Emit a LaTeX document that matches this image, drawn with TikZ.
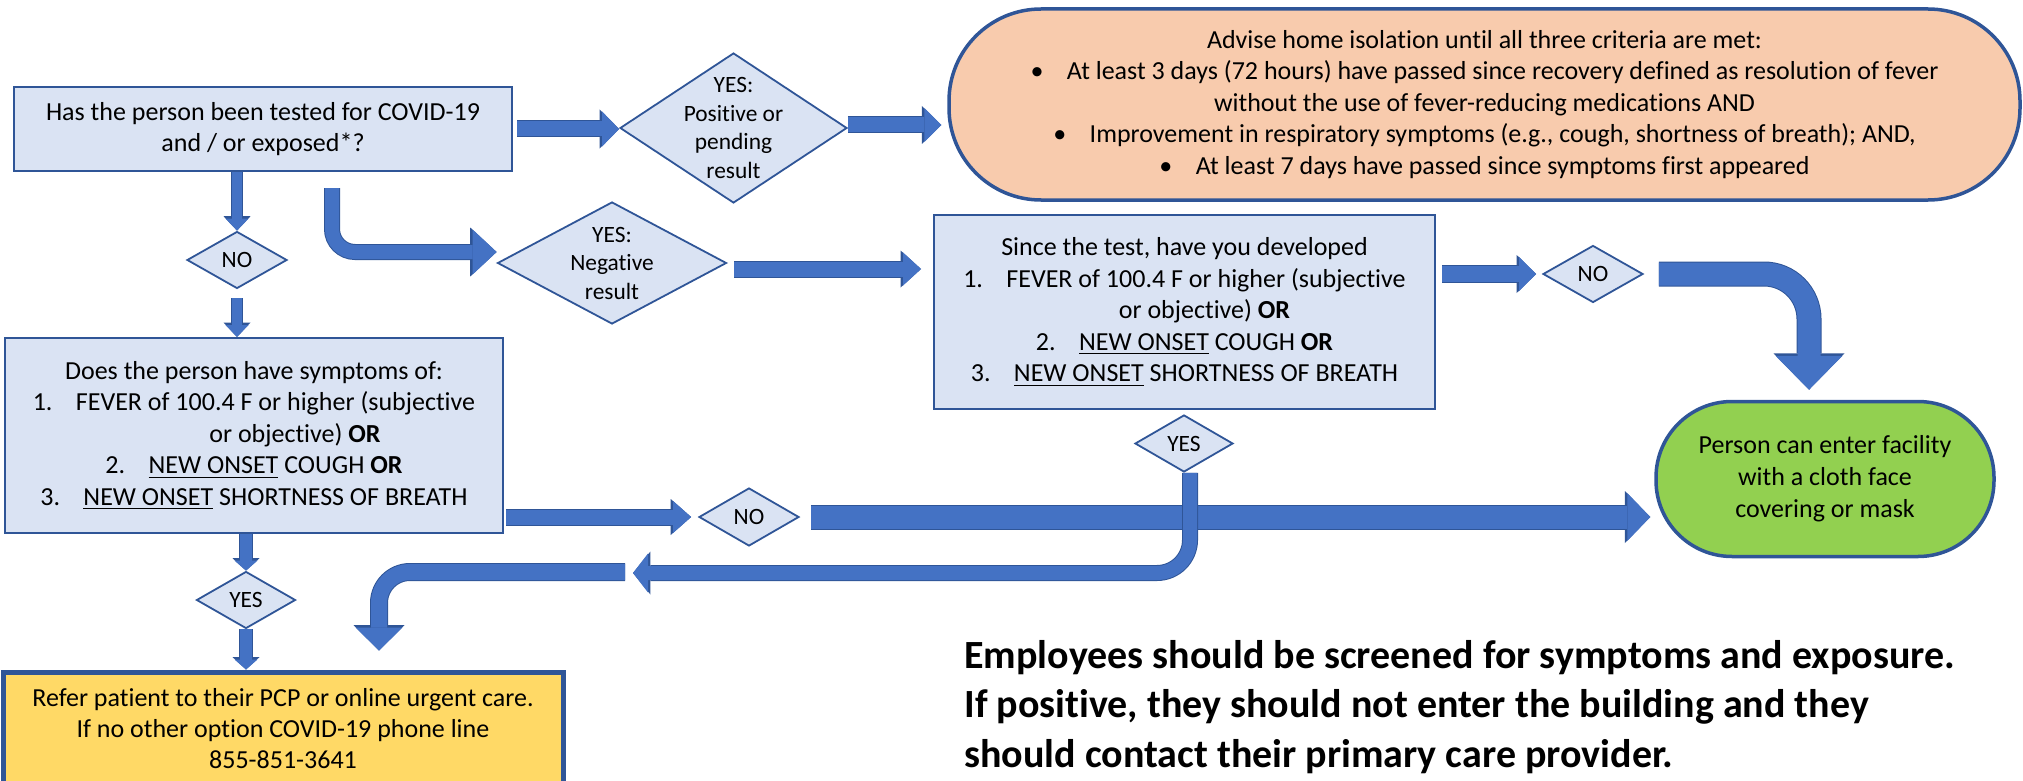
\documentclass[tikz,border=0pt]{standalone}
\usepackage{fontspec}
\setmainfont{Carlito}[Ligatures=NoCommon]
\usetikzlibrary{arrows.meta,shapes.geometric,calc}
\definecolor{boxfill}{HTML}{DAE3F3}
\definecolor{boxline}{HTML}{2F5597}
\definecolor{afill}{HTML}{4472C4}
\definecolor{orangefill}{HTML}{F8CBAD}
\definecolor{greenfill}{HTML}{92D050}
\definecolor{yellowfill}{HTML}{FFD966}
\newcommand\fsz[2]{\fontsize{#1}{#2}\selectfont}
\begin{document}
\begin{tikzpicture}[x=0.5pt,y=-0.5pt,
  qbox/.style={draw=boxline, fill=boxfill, line width=1pt, inner sep=0pt, align=center, font=\fsz{13}{15.75}},
  dia/.style={diamond, draw=boxline, fill=boxfill, line width=0.9pt, inner sep=0pt, font=\fsz{11.7}{14.25}},
  dtext/.style={align=center, inner sep=0pt, font=\fsz{11.7}{14.25}},
  endbox/.style={draw=boxline, line width=1.75pt, inner sep=0pt, align=center, font=\fsz{13}{15.75}},
  blk/.code n args={3}{%
    \pgfmathsetlengthmacro\blkw{#1+1pt}%
    \pgfmathsetlengthmacro\blkl{#2+1.2pt}%
    \pgfmathsetlengthmacro\blkh{#3+2pt}%
    \tikzset{draw=afill, line width=#1, -{Triangle[length=#2, width=#3, line width=0pt]},
      preaction={draw=boxline, line width=\blkw, -{Triangle[length=\blkl, width=\blkh, line width=0pt]}}}},
]
\useasboundingbox (0,0) rectangle (2023,781);

% nodes
\node[qbox, minimum width=249pt, minimum height=42pt] (q1) at (263,129)
  {Has the person been tested for COVID-19\\and / or exposed*?};
\node[dia, minimum width=113.5pt, minimum height=75pt,
  label={[dtext]center:{YES:\\Positive or\\pending\\result}}] (d1) at (733.5,128) {};
\node[endbox, fill=orangefill, rounded corners=46pt, minimum width=535.5pt, minimum height=95.5pt] (adv) at (1484.5,104.5)
  {Advise home isolation until all three criteria are met:\\
   \textbullet\hspace{0.9em}At least 3 days (72 hours) have passed since recovery defined as resolution of fever\\
   without the use of fever-reducing medications AND\\
   \textbullet\hspace{0.9em}Improvement in respiratory symptoms (e.g., cough, shortness of breath); AND,\\
   \textbullet\hspace{0.9em}At least 7 days have passed since symptoms first appeared};
\node[dia, minimum width=50pt, minimum height=28.5pt] (n1) at (237,260) {NO};
\node[dia, minimum width=114.5pt, minimum height=61pt,
  label={[dtext]center:{YES:\\Negative\\result}}] (d2) at (612,263) {};
\node[qbox, minimum width=250.5pt, minimum height=97pt] (test) at (1184.5,312)
  {Since the test, have you developed\\
   1.\hspace{0.9em}FEVER of 100.4 F or higher (subjective\\
   \hspace*{20pt}or objective) \textbf{OR}\\
   2.\hspace{0.9em}\underline{NEW ONSET} COUGH \textbf{OR}\\
   3.\hspace{0.9em}\underline{NEW ONSET} SHORTNESS OF BREATH};
\node[dia, minimum width=50pt, minimum height=28.5pt] (n3) at (1593,274) {NO};
\node[dia, minimum width=49pt, minimum height=28.5pt] (yes1) at (1184,443.5) {YES};
\node[qbox, minimum width=249pt, minimum height=97.5pt] (sym) at (254,435.5)
  {Does the person have symptoms of:\\
   1.\hspace{0.9em}FEVER of 100.4 F or higher (subjective\\
   \hspace*{41pt}or objective) \textbf{OR}\\
   2.\hspace{0.9em}\underline{NEW ONSET} COUGH \textbf{OR}\\
   3.\hspace{0.9em}\underline{NEW ONSET} SHORTNESS OF BREATH};
\node[dia, minimum width=50pt, minimum height=29pt] (n4) at (749,517) {NO};
\node[dia, minimum width=49.5pt, minimum height=28.5pt] (yes2) at (246,600) {YES};
\node[endbox, fill=greenfill, rounded corners=38pt, minimum width=169pt, minimum height=77.5pt,
  font=\fsz{13}{16}] (green) at (1825,479)
  {Person can enter facility\\with a cloth face\\covering or mask};
\node[endbox, fill=yellowfill, line width=2.5pt, minimum width=280pt, minimum height=57pt,
  font=\fsz{13}{15.5}] (yellow) at (283,729)
  {Refer patient to their PCP or online urgent care.\\If no other option COVID-19 phone line\\855-851-3641};
\node[anchor=west, align=left, inner sep=0pt, font=\bfseries\fsz{20}{24.8}] (note) at (964,707)
  {Employees should be screened for symptoms and exposure.\\
   If positive, they should not enter the building and they\\
   should contact their primary care provider.};

% connectors
\draw[blk={5pt}{6pt}{11.5pt}] (n1.north |- q1.south) -- (n1.north);
\draw[blk={5pt}{6pt}{11.5pt}, shorten <=4.5pt] (n1.south) -- (n1.south |- sym.north);
\draw[blk={7.5pt}{8.5pt}{17.5pt}, shorten <=2pt] (q1.east) -- (q1.east -| d1.west);
\draw[blk={7.5pt}{8.5pt}{17pt}, shorten >=3pt] ([yshift=1.5pt]d1.east) -- ([yshift=1.5pt]d1.east -| adv.west);
\draw[blk={7pt}{12pt}{22.5pt}, rounded corners=11.5pt, shorten <=8pt]
  ([xshift=34.5pt]q1.south) |- ([yshift=5.5pt]d2.west);
\draw[blk={7.5pt}{9pt}{16.5pt}, shorten <=3.5pt, shorten >=6pt]
  ([yshift=-3pt]d2.east) -- ([yshift=-3pt]d2.east -| test.west);
\draw[blk={8pt}{8.5pt}{17pt}, shorten <=3pt, shorten >=3pt] (n3.west -| test.east) -- (n3.west);
\draw[blk={11.5pt}{17pt}{33.5pt}, rounded corners=22.5pt, shorten <=7.5pt]
  (n3.east) -| ([xshift=-8pt,yshift=5pt]green.north);
\draw[blk={7.5pt}{9pt}{16pt}, shorten <=1pt, shorten >=3.5pt] (n4.west -| sym.east) -- (n4.west);
\draw[blk={11.5pt}{11.5pt}{24pt}, shorten <=5.5pt, shorten >=2pt] (n4.east) -- (n4.east -| green.west);
\coordinate (c1) at (633,573);
\draw[blk={7pt}{7.5pt}{19.5pt}, rounded corners=16.5pt] ([xshift=3pt]yes1.south) |- (c1);
\coordinate (c2) at (625,572);
\draw[blk={8pt}{11.5pt}{23.5pt}, rounded corners=15.5pt] (c2) -| ([xshift=48pt,yshift=9.5pt]yellow.north);
\draw[blk={6pt}{5pt}{11.5pt}] (yes2.north |- sym.south) -- (yes2.north);
\draw[blk={6pt}{5pt}{11.5pt}] (yes2.south) -- (yes2.south |- yellow.north);
\end{tikzpicture}
\end{document}
